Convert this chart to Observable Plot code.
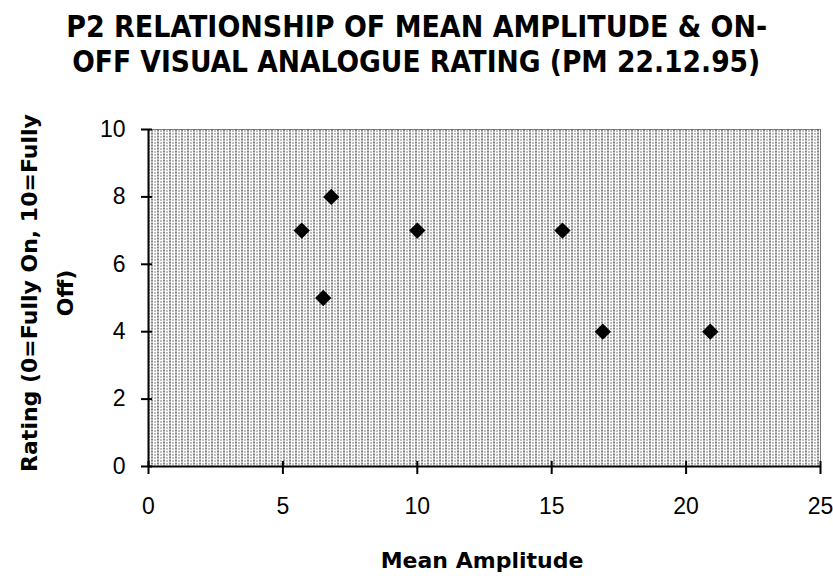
<!DOCTYPE html>
<html>
<head>
<meta charset="utf-8">
<script src="https://cdn.jsdelivr.net/npm/d3@7"></script>
<script src="https://cdn.jsdelivr.net/npm/@observablehq/plot@0.6"></script>
<style>
  html, body { margin: 0; padding: 0; background: #fff; }
  #wrap { width: 833px; height: 576px; position: relative; overflow: hidden; }
  #title { height: 90px; box-sizing: border-box; padding-top: 9px; text-align: center;
    font-family: "Liberation Sans Narrow", "Arial Narrow", "DejaVu Sans Condensed", sans-serif;
    font-weight: bold; font-size: 31px; line-height: 35px; color: #000; }
  #title span { display: inline-block; white-space: nowrap; transform-origin: 50% 50%; }
  #chart svg { display: block; }
</style>
</head>
<body>
<div id="wrap">
  <div id="title"><span id="t1">P2 RELATIONSHIP OF MEAN AMPLITUDE &amp; ON-</span><br><span id="t2">OFF VISUAL ANALOGUE RATING (PM 22.12.95)</span></div>
  <div id="chart"></div>
</div>
<script>
// Data
const amplitude = [5.7, 6.8, 6.5, 10, 15.4, 16.9, 20.9];
const rating    = [7,   8,   5,   7,  7,    4,    4];
const xTicks = [0, 5, 10, 15, 20, 25];
const yTicks = [0, 2, 4, 6, 8, 10];
const xLabel = "Mean Amplitude";
const yLabel = "Rating (0=Fully On, 10=Fully\nOff)";

const points = amplitude.map((a, i) => ({amplitude: a, rating: rating[i]}));

// fit title lines to the reference widths
const targets = {t1: 701, t2: 688};
for (const id of ["t1", "t2"]) {
  const el = document.getElementById(id);
  const w = el.getBoundingClientRect().width;
  el.style.transform = `scaleX(${targets[id] / w})`;
}

const chart = Plot.plot({
  width: 833,
  height: 486,
  marginTop: 39,
  marginBottom: 110,
  marginLeft: 148,
  marginRight: 13,
  style: {fontFamily: "'Liberation Sans', Arial, sans-serif", fontSize: "23px", color: "#000", background: "#fff", overflow: "visible"},
  x: {domain: [0, 25], ticks: xTicks},
  y: {domain: [0, 10], ticks: yTicks},
  marks: [
    Plot.frame({fill: "url(#dither)", stroke: null}),
    Plot.frame({stroke: "#000", strokeDasharray: "1,1", strokeWidth: 1}),
    Plot.axisX({ticks: xTicks, tickSize: 8, tickPadding: 23, label: null, stroke: "#000", strokeWidth: 2, fill: "#000"}),
    Plot.axisX({ticks: xTicks, tickSize: -5, text: null, label: null, stroke: "#000", strokeWidth: 2}),
    Plot.axisY({ticks: yTicks, tickSize: 7, tickPadding: 16, label: null, stroke: "#000", strokeWidth: 2, fill: "#000"}),
    Plot.axisY({ticks: yTicks, tickSize: -4, text: null, label: null, stroke: "#000", strokeWidth: 2}),
    Plot.ruleX([0], {stroke: "#000", strokeWidth: 2}),
    Plot.ruleY([0], {stroke: "#000", strokeWidth: 2}),
    Plot.dot(points, {x: "amplitude", y: "rating", symbol: "square", rotate: 45, r: 6.5, fill: "#000", stroke: null}),
    Plot.text([yLabel], {frameAnchor: "left", textAnchor: "middle", rotate: -90, dx: -105, dy: -5, lineHeight: 1.64,
      fontFamily: "'DejaVu Sans', sans-serif", fontWeight: "bold", fontSize: 22, fill: "#000"}),
    Plot.text([xLabel], {frameAnchor: "bottom", lineAnchor: "top", dx: -2.5, dy: 86,
      fontFamily: "'DejaVu Sans', sans-serif", fontWeight: "bold", fontSize: 22, fill: "#000"})
  ]
});

// dither pattern for the plot background
const defs = d3.select(chart).insert("defs", ":first-child");
const pat = defs.append("pattern").attr("id", "dither").attr("patternUnits", "userSpaceOnUse")
  .attr("width", 6).attr("height", 3);
pat.append("rect").attr("width", 6).attr("height", 3).attr("fill", "#fff");
pat.append("rect").attr("x", 1).attr("y", 0).attr("width", 1).attr("height", 2).attr("fill", "#000");
pat.append("rect").attr("x", 4).attr("y", 1).attr("width", 1).attr("height", 1).attr("fill", "#000");

document.getElementById("chart").appendChild(chart);
</script>
</body>
</html>
